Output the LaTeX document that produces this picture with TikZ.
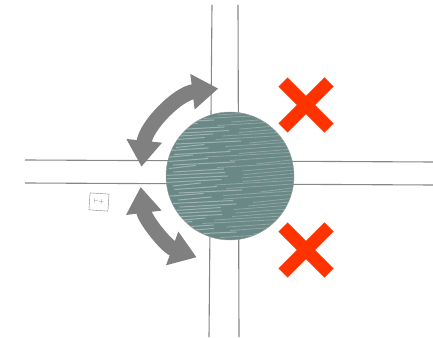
\documentclass[tikz,border=0pt]{standalone}
\usepackage{tikz}
\usetikzlibrary{arrows.meta,shapes.misc}

\definecolor{roadgray}{RGB}{135,135,135}
\definecolor{plazagreen}{RGB}{106,137,134}
\definecolor{turngray}{RGB}{128,128,128}
\definecolor{nogored}{RGB}{255,51,0}

\begin{document}
\begin{tikzpicture}
        [ x = 1pt, y = 1pt
        , road/.style =
          { roadgray, line width = 1.1pt }
        , plaza/.style =
          { circle, fill = plazagreen, draw = roadgray!80, thin,
            minimum size = 128pt, inner sep = 0pt }
        , turn/.style =
          { turngray, line width = 15pt,
            {Triangle[width=34pt,length=26pt]}-{Triangle[width=34pt,length=26pt]} }
        , nogo/.style =
          { cross out, draw = nogored, line width = 13pt,
            minimum size = 46pt, inner sep = 0pt, outer sep = 0pt }
        , sign/.style =
          { draw = gray, thin, minimum width = 19pt, minimum height = 17pt,
            inner sep = 0pt, text = gray!90!black, font = \scriptsize, rotate = -4 }
        ]
        \useasboundingbox (0,0) rectangle (433,337);

        % streets
        \draw [road] (25,177) -- (433,175);
        \draw [road] (25,154) -- (433,152);
        \draw [road] (212,332) -- (209,0);
        \draw [road] (238,332) -- (239,0);

        % the round plaza with its pencil strokes
        \node [plaza] (plaza) at (230,161) {};
        \begin{scope}
          \clip (plaza.center) circle (63.5pt);
          \pgfmathsetseed{7}
          \foreach \y in {-66,-62.5,...,66} {
            \pgfmathsetmacro\xa{-70+20*rnd}
            \pgfmathsetmacro\xb{\xa+25+40*rnd}
            \pgfmathsetmacro\xc{\xb+8+15*rnd}
            \draw [white, opacity = .35, line width = 1pt, line cap = round]
              ([shift={(\xa,\y)}]plaza.center) -- ([shift={(\xb,\y+3)}]plaza.center);
            \draw [white, opacity = .25, line width = .8pt, line cap = round]
              ([shift={(\xc,\y+1)}]plaza.center) -- ([shift={(70,\y+6)}]plaza.center);
          }
        \end{scope}

        % allowed turns
        \draw [turn] ([shift={(174:89)}]plaza.center)
          arc [start angle = 174, end angle = 97, radius = 88];
        \draw [turn] ([shift={(187:90)}]plaza.center)
          arc [start angle = 187, end angle = 250, radius = 86];

        % forbidden exits
        \node [nogo] (nogoNE) at (306,232) {};
        \node [nogo] (nogoSE) at (306,87) {};

        \node [sign] (post) at (99,135) {$\vdash\!\!+$};
\end{tikzpicture}
\end{document}
